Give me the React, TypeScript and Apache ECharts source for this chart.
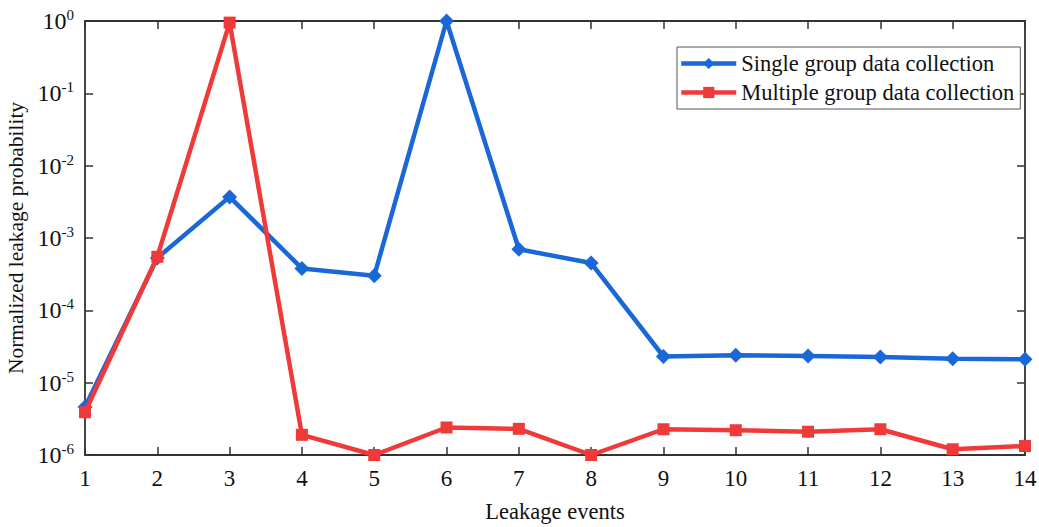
import React, { useEffect, useRef } from "react";
import * as echarts from "echarts";

const events = [1, 2, 3, 4, 5, 6, 7, 8, 9, 10, 11, 12, 13, 14];
const singleGroup = [4.6e-6, 5.3e-4, 3.7e-3, 3.8e-4, 3.0e-4, 1.0, 7.0e-4, 4.5e-4, 2.3e-5, 2.4e-5, 2.34e-5, 2.26e-5, 2.14e-5, 2.1e-5];
const multipleGroup = [3.9e-6, 5.5e-4, 0.95, 1.9e-6, 1.0e-6, 2.4e-6, 2.3e-6, 1.0e-6, 2.27e-6, 2.2e-6, 2.1e-6, 2.27e-6, 1.2e-6, 1.33e-6];
const seriesNames = ["Single group data collection", "Multiple group data collection"];

const FONT = "'Liberation Serif', 'Times New Roman', serif";

export default function App() {
  const ref = useRef<HTMLDivElement>(null);
  useEffect(() => {
    if (!ref.current) return;
    const chart = echarts.init(ref.current, null, { renderer: "svg" });
    const axisLine = { show: true, lineStyle: { color: "#333", width: 1.8 } };
    const tickStyle = { show: true, inside: true, length: 8, lineStyle: { color: "#333", width: 1.5 } };
    chart.setOption({
      animation: false,
      backgroundColor: "#fff",
      textStyle: { fontFamily: FONT },
      grid: { left: 85, right: 14, top: 21, bottom: 72, containLabel: false, outerBoundsMode: "none" },
      legend: {
        orient: "vertical",
        left: 677,
        top: 47,
        width: 340,
        padding: [5, 6, 5, 2],
        itemGap: 6,
        itemWidth: 55,
        itemHeight: 14,
        itemTextGap: 4,
        borderColor: "#555",
        borderWidth: 1,
        backgroundColor: "#fff",
        lineStyle: { width: 4.5 },
        textStyle: { fontFamily: FONT, fontSize: 22.5, color: "#111" },
        data: seriesNames,
      },
      xAxis: [
        {
          type: "value",
          min: 1,
          max: 14,
          interval: 1,
          name: "Leakage events",
          nameLocation: "middle",
          nameGap: 45,
          nameTextStyle: { fontFamily: FONT, fontSize: 22.5, color: "#111" },
          axisLine,
          axisTick: tickStyle,
          axisLabel: { fontFamily: FONT, fontSize: 23, color: "#111", margin: 12 },
          splitLine: { show: false },
        },
        {
          type: "value",
          position: "top",
          min: 1,
          max: 14,
          interval: 1,
          axisLine,
          axisTick: tickStyle,
          axisLabel: { show: false },
          splitLine: { show: false },
        },
      ],
      yAxis: [
        {
          type: "log",
          logBase: 10,
          min: 1e-6,
          max: 1,
          name: "Normalized leakage probability",
          nameLocation: "middle",
          nameGap: 50,
          nameTextStyle: { fontFamily: FONT, fontSize: 21.5, color: "#111" },
          axisLine,
          axisTick: tickStyle,
          minorTick: { show: false },
          axisLabel: {
            margin: 11,
            formatter: (v: number) => `{b|10}{s|${Math.round(Math.log10(v))}}`,
            rich: {
              b: { fontFamily: FONT, fontSize: 24, color: "#111" },
              s: { fontFamily: FONT, fontSize: 15, color: "#111", padding: [0, 0, 12, 0] },
            },
          },
          splitLine: { show: false },
        },
        {
          type: "log",
          logBase: 10,
          min: 1e-6,
          max: 1,
          position: "right",
          axisLine,
          axisTick: tickStyle,
          axisLabel: { show: false },
          splitLine: { show: false },
        },
      ],
      series: [
        {
          name: seriesNames[0],
          type: "line",
          data: events.map((e, i) => [e, singleGroup[i]]),
          color: "#1a67d8",
          lineStyle: { width: 4.5, color: "#1a67d8" },
          symbol: "diamond",
          symbolSize: 15,
          itemStyle: { color: "#1a67d8" },
          z: 2,
        },
        {
          name: seriesNames[1],
          type: "line",
          data: events.map((e, i) => [e, multipleGroup[i]]),
          color: "#f03a3a",
          lineStyle: { width: 4.5, color: "#f03a3a" },
          symbol: "rect",
          symbolSize: 12,
          itemStyle: { color: "#f03a3a" },
          z: 3,
        },
      ],
    });
    return () => chart.dispose();
  }, []);
  return <div ref={ref} style={{ position: "fixed", left: 0, top: 0, width: 1039, height: 527 }} />;
}
